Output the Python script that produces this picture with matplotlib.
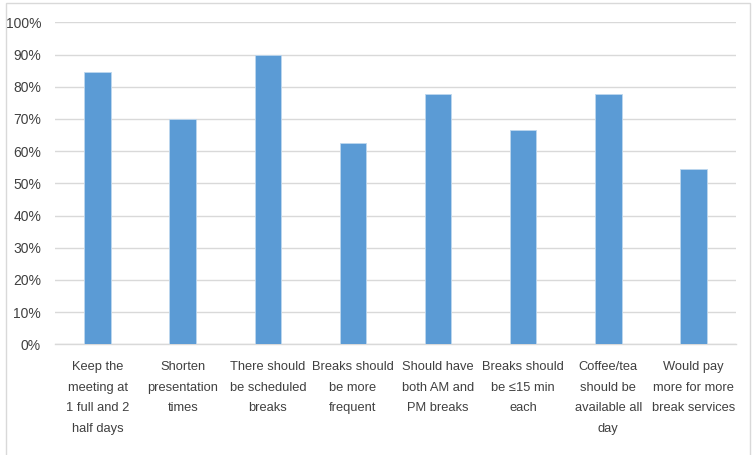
import matplotlib.pyplot as plt
from matplotlib.patches import Rectangle
from matplotlib.ticker import PercentFormatter

categories = [
    "Keep the\nmeeting at\n1 full and 2\nhalf days",
    "Shorten\npresentation\ntimes",
    "There should\nbe scheduled\nbreaks",
    "Breaks should\nbe more\nfrequent",
    "Should have\nboth AM and\nPM breaks",
    "Breaks should\nbe \u226415 min\neach",
    "Coffee/tea\nshould be\navailable all\nday",
    "Would pay\nmore for more\nbreak services",
]
values = [0.846, 0.70, 0.90, 0.625, 0.778, 0.667, 0.778, 0.545]

plt.rcParams['font.family'] = ['Liberation Sans', 'DejaVu Sans']

fig = plt.figure(figsize=(7.55, 4.55), dpi=100)
ax = fig.add_axes([55 / 755, 1 - 344.3 / 455, (736 - 55) / 755, 322 / 455])

x = range(len(categories))
ax.bar(x, values, width=0.31, color='#5b9bd5', edgecolor='#bdd7ee', linewidth=0.6, zorder=3)

ax.set_xlim(-0.5, len(categories) - 0.5)
ax.set_ylim(0, 1)
ax.set_yticks([i / 10 for i in range(11)])
ax.yaxis.set_major_formatter(PercentFormatter(1.0, decimals=0))
ax.set_xticks(list(x))
ax.set_xticklabels(categories, linespacing=1.95, va='top')

ax.grid(axis='y', color='#d9d9d9', linewidth=1.0, zorder=0)
for s in ['top', 'right', 'left']:
    ax.spines[s].set_visible(False)
ax.spines['bottom'].set_color('#d9d9d9')
ax.spines['bottom'].set_linewidth(1.0)
ax.tick_params(axis='both', length=0, colors='#404040')
ax.tick_params(axis='x', pad=12, labelsize=9.3)
ax.tick_params(axis='y', pad=10, labelsize=10)

# outer chart border
fig.patches.append(Rectangle((6 / 755, -0.01), (750 - 6) / 755, 1 - 3 / 455 + 0.01,
                             transform=fig.transFigure, fill=False,
                             edgecolor='#d9d9d9', linewidth=1.0))

fig.savefig('out.png', dpi=100)
